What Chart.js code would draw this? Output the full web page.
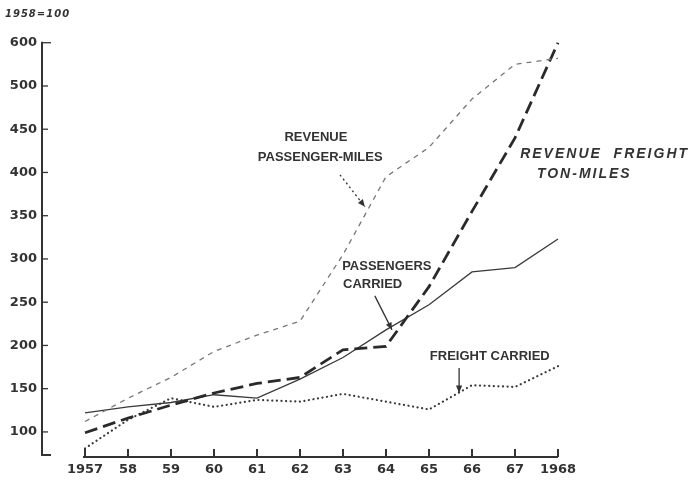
<!DOCTYPE html>
<html><head><meta charset="utf-8">
<script src="https://cdn.jsdelivr.net/npm/chart.js@4.4.1/dist/chart.umd.min.js"></script>
<style>html,body{margin:0;padding:0;background:#fff}#wrap{width:690px;height:482px}</style>
</head><body><div id="wrap"><canvas id="c" width="690" height="482"></canvas></div>
<script>
const years = [1957,1958,1959,1960,1961,1962,1963,1964,1965,1966,1967,1968];
const xLabels = ['1957','58','59','60','61','62','63','64','65','66','67','1968'];
const yTickValues = [100,150,200,250,300,350,400,450,500,550];
const yTickLabels = ['100','150','200','250','300','350','400','450','500','600'];
const revenuePassengerMiles = [112,139,163,193,212,228,305,395,429,485,525,532];
const revenueFreightTonMiles = [99,116,131,145,156,163,195,199,268,355,440,550];
const passengersCarried = [122,129,134,143,139,161,186,218,247,285,290,323];
const freightCarried = [81,114,139,129,137,135,144,135,126,154,152,176];

const ink = '#333';
const pts = arr => arr.map((v,i)=>({x:years[i], y:v}));

const notes = [
  {text:'REVENUE', x:1962.37, y:440, align:'center', font:'bold 13px "Liberation Sans"'},
  {text:'PASSENGER-MILES', x:1962.47, y:417, align:'center', font:'bold 13px "Liberation Sans"'},
  {text:'REVENUE  FREIGHT', x:1967.12, y:421.6, align:'left', font:'italic bold 14px "Liberation Sans"', spacing:'2px'},
  {text:'TON-MILES', x:1967.51, y:398.5, align:'left', font:'italic bold 14px "Liberation Sans"', spacing:'2px'},
  {text:'PASSENGERS', x:1962.98, y:290.9, align:'left', font:'bold 13px "Liberation Sans"'},
  {text:'CARRIED', x:1963.0, y:270, align:'left', font:'bold 13px "Liberation Sans"'},
  {text:'FREIGHT CARRIED', x:1965.02, y:186.8, align:'left', font:'bold 13px "Liberation Sans"'}
];
const arrows = [
  {from:[1962.93,397.3], to:[1963.51,360.3], dash:[2,3]},
  {from:[1963.74,257.3], to:[1964.14,218], dash:[]},
  {from:[1965.70,174], to:[1965.70,145.1], dash:[]}
];

const deco = {
  id:'deco',
  afterDraw(chart){
    const {ctx, scales:{x,y}, chartArea:ca} = chart;
    ctx.save();
    ctx.strokeStyle = ink; ctx.fillStyle = ink;
    ctx.lineWidth = 2;
    ctx.beginPath();
    ctx.moveTo(ca.left, y.getPixelForValue(550)-1);
    ctx.lineTo(ca.left, ca.bottom-2);
    ctx.lineTo(ca.left+9, ca.bottom-2);
    ctx.stroke();
    ctx.lineWidth = 1.3;
    yTickValues.forEach((v,i)=>{
      const py = y.getPixelForValue(v);
      ctx.beginPath();
      ctx.moveTo(ca.left, py);
      ctx.lineTo(ca.left + (i===yTickValues.length-1 ? 9 : 6), py);
      ctx.stroke();
    });
    const xb = ca.bottom;
    ctx.lineWidth = 1.8;
    ctx.beginPath();
    ctx.moveTo(x.getPixelForValue(years[0])-2, xb);
    ctx.lineTo(x.getPixelForValue(years[years.length-1]), xb);
    ctx.stroke();
    ctx.lineWidth = 2;
    years.forEach(yr=>{
      const px = x.getPixelForValue(yr);
      ctx.beginPath(); ctx.moveTo(px, xb); ctx.lineTo(px, xb-8); ctx.stroke();
    });
    ctx.font = 'italic bold 10px "DejaVu Sans"';
    ctx.letterSpacing = '1px';
    ctx.textAlign = 'left'; ctx.textBaseline = 'middle';
    ctx.fillText('1958=100', 5, 14);
    notes.forEach(n=>{
      ctx.font = n.font;
      ctx.letterSpacing = n.spacing || '0px';
      ctx.textAlign = n.align; ctx.textBaseline = 'middle';
      ctx.fillText(n.text, x.getPixelForValue(n.x), y.getPixelForValue(n.y));
    });
    ctx.letterSpacing = '0px';
    arrows.forEach(a=>{
      const x1 = x.getPixelForValue(a.from[0]), y1 = y.getPixelForValue(a.from[1]);
      const x2 = x.getPixelForValue(a.to[0]), y2 = y.getPixelForValue(a.to[1]);
      ctx.lineWidth = 1.3; ctx.setLineDash(a.dash);
      ctx.beginPath(); ctx.moveTo(x1,y1); ctx.lineTo(x2,y2); ctx.stroke();
      ctx.setLineDash([]);
      const ang = Math.atan2(y2-y1, x2-x1), L = 8;
      ctx.beginPath();
      ctx.moveTo(x2,y2);
      ctx.lineTo(x2 - L*Math.cos(ang-0.4), y2 - L*Math.sin(ang-0.4));
      ctx.lineTo(x2 - L*Math.cos(ang+0.4), y2 - L*Math.sin(ang+0.4));
      ctx.closePath(); ctx.fill();
    });
    ctx.restore();
  }
};

new Chart(document.getElementById('c'), {
  type:'line',
  data:{datasets:[
    {label:'Revenue passenger-miles', data:pts(revenuePassengerMiles), borderColor:'#777', borderWidth:1.3, borderDash:[5,5], tension:0, pointRadius:0},
    {label:'Revenue freight ton-miles', data:pts(revenueFreightTonMiles), borderColor:'#2a2a2a', borderWidth:2.8, borderDash:[13,6], tension:0, pointRadius:0},
    {label:'Passengers carried', data:pts(passengersCarried), borderColor:'#3a3a3a', borderWidth:1.3, tension:0, pointRadius:0},
    {label:'Freight carried', data:pts(freightCarried), borderColor:'#3a3a3a', borderWidth:2.2, borderDash:[0.1,4.5], borderCapStyle:'round', tension:0, pointRadius:0}
  ]},
  options:{
    responsive:false, animation:false, devicePixelRatio:1,
    clip:false,
    layout:{padding:{top:41, right:132, left:0, bottom:0}},
    plugins:{legend:{display:false}, tooltip:{enabled:false}},
    scales:{
      x:{type:'linear', min:1956, max:1968,
        grid:{display:false, drawTicks:false}, border:{display:false},
        afterBuildTicks:s=>{ s.ticks = years.map(v=>({value:v})); },
        afterFit:s=>{ s.height = 25; },
        ticks:{padding:5, color:'#333', font:{family:'DejaVu Sans', weight:'bold', size:13}, maxRotation:0, autoSkip:false,
          callback:(v)=>{ const i = years.indexOf(v); return i>=0 ? xLabels[i] : ''; }}
      },
      y:{type:'linear', min:71, max:552,
        grid:{display:false, drawTicks:false}, border:{display:false},
        afterBuildTicks:s=>{ s.ticks = yTickValues.map(v=>({value:v})); },
        afterFit:s=>{ s.width = 42; },
        ticks:{padding:5, color:'#333', font:{family:'DejaVu Sans', weight:'bold', size:13}, autoSkip:false,
          callback:(v)=>{ const i = yTickValues.indexOf(v); return i>=0 ? yTickLabels[i] : ''; }}
      }
    }
  },
  plugins:[deco]
});
</script></body></html>
